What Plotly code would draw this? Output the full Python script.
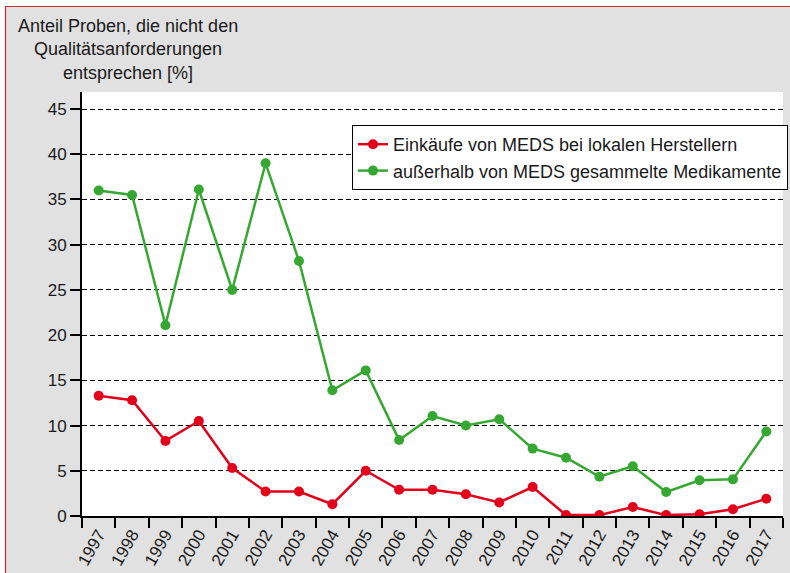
import plotly.graph_objects as go

years = [str(y) for y in range(1997, 2018)]
local_purchases = [13.3, 12.8, 8.3, 10.5, 5.3, 2.7, 2.7, 1.3, 5.0, 2.9, 2.9,
                   2.4, 1.5, 3.2, 0.1, 0.1, 1.0, 0.1, 0.2, 0.75, 1.9]
outside_meds = [36.0, 35.5, 21.1, 36.1, 25.0, 39.0, 28.2, 13.9, 16.1, 8.4, 11.05,
                10.0, 10.7, 7.45, 6.45, 4.35, 5.5, 2.65, 3.95, 4.05, 9.35]
y_ticks = [0, 5, 10, 15, 20, 25, 30, 35, 40, 45]
name_local = "Einkäufe von MEDS bei lokalen Herstellern"
name_outside = "außerhalb von MEDS gesammelte Medikamente"
y_title = "Anteil Proben, die nicht den<br>Qualitätsanforderungen<br>entsprechen [%]"

RED = "#e3001b"
GREEN = "#36a832"
FONT = "Liberation Sans, Arial, sans-serif"
TXT = "#1a1a1a"

W, H = 790, 573
L, R, T, B = 82, 7, 92, 57
pw, ph = W - L - R, H - T - B

def px(xp):
    return (xp - L) / pw

def py(yp):
    return (H - B - yp) / ph

fig = go.Figure()
fig.add_trace(go.Scatter(x=years, y=local_purchases, name=name_local, mode="lines+markers",
                         line=dict(color=RED, width=2.5), marker=dict(color=RED, size=10)))
fig.add_trace(go.Scatter(x=years, y=outside_meds, name=name_outside, mode="lines+markers",
                         line=dict(color=GREEN, width=2.5), marker=dict(color=GREEN, size=10)))

shapes = [
    dict(type="rect", xref="paper", yref="paper", x0=px(-5), x1=px(5), y0=py(H + 5), y1=py(-5),
         fillcolor="white", line=dict(width=0), layer="below"),
    dict(type="rect", xref="paper", yref="paper", x0=px(-5), x1=px(W + 5), y0=py(6), y1=py(-5),
         fillcolor="white", line=dict(width=0), layer="below"),
    dict(type="line", xref="paper", yref="paper", x0=px(5.5), x1=px(5.5), y0=py(6), y1=py(H + 5),
         line=dict(color="#d42a35", width=1.2)),
    dict(type="line", xref="paper", yref="paper", x0=px(5), x1=px(W + 5), y0=py(6.5), y1=py(6.5),
         line=dict(color="#d42a35", width=1.2)),
]

fig.update_layout(
    width=W, height=H,
    margin=dict(l=L, r=R, t=T, b=B, pad=0, autoexpand=False),
    paper_bgcolor="#e1e1e1",
    plot_bgcolor="white",
    font=dict(family=FONT, size=18, color=TXT),
    shapes=shapes,
    showlegend=True,
    hovermode=False,
    legend=dict(xref="container", yref="container", x=352 / W, y=1 - 125 / H,
                xanchor="left", yanchor="top",
                bgcolor="white", bordercolor="black", borderwidth=1,
                font=dict(size=18, family=FONT, color=TXT)),
    xaxis=dict(type="category", tickson="boundaries", range=[-0.5, 20.5], automargin=False,
               showline=True, linecolor="black", linewidth=2,
               ticks="outside", ticklen=10, tickwidth=2, tickcolor="black",
               tickangle=-60, tickfont=dict(size=17), showgrid=False, zeroline=False),
    yaxis=dict(range=[0, (H - B - T) / 9.044], tickvals=y_ticks, automargin=False,
               showline=True, linecolor="black", linewidth=2,
               ticks="outside", ticklen=10, tickwidth=2, tickcolor="black",
               tickfont=dict(size=17), showgrid=True, gridcolor="black", gridwidth=1,
               griddash="5px,3px", zeroline=False),
    annotations=[dict(text=y_title, xref="paper", yref="paper", x=px(128), y=py(50),
                      xanchor="center", yanchor="middle", align="center", showarrow=False,
                      font=dict(size=18, family=FONT, color=TXT))],
)

fig.write_html("out.html", config={"displayModeBar": False, "staticPlot": True},
               post_script="document.body.style.margin='0';document.body.style.overflow='hidden';")
